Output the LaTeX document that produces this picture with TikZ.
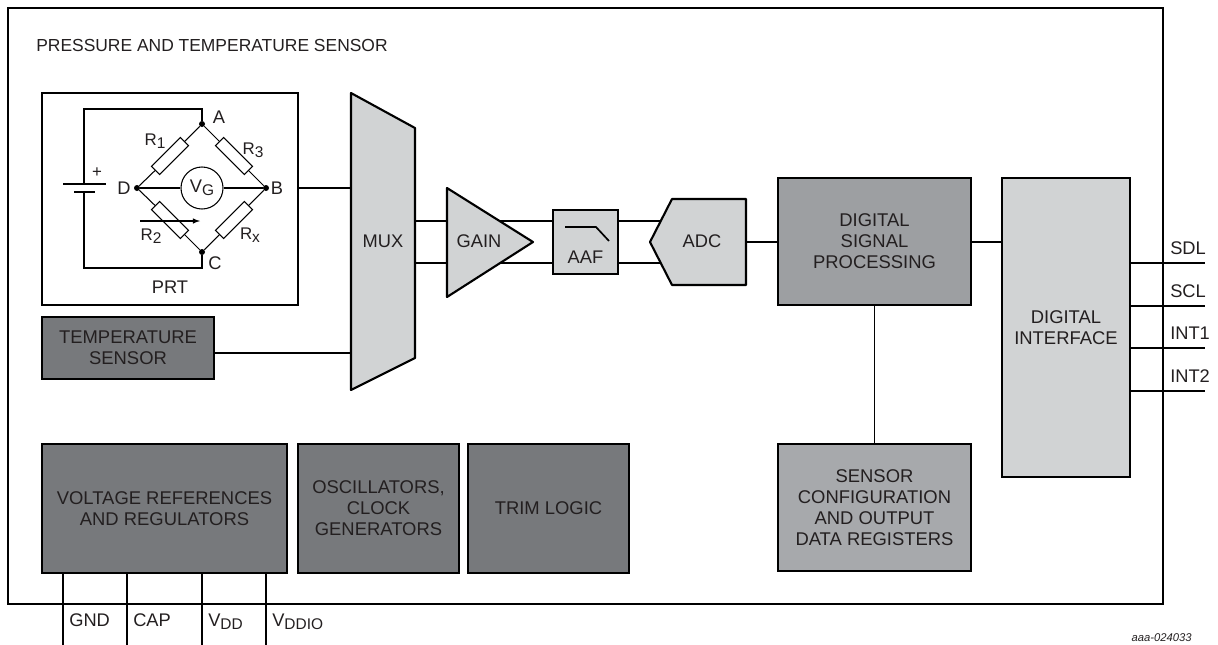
\documentclass[tikz,border=0pt]{standalone}
\usepackage{fontspec}
\setmainfont{Liberation Sans}
\definecolor{darkblock}{HTML}{77797C}
\definecolor{midblock}{HTML}{9D9FA2}
\definecolor{cfgblock}{HTML}{A7A9AC}
\definecolor{lightblock}{HTML}{D1D3D4}
\definecolor{inktext}{HTML}{231F20}
\newcommand{\lowsub}[1]{\raisebox{-.35ex}{\fontsize{11}{12}\selectfont #1}}
\tikzset{
	block/.style={draw=black,line width=1.5pt,align=center,inner sep=0pt,text=inktext,font=\fontsize{13.1}{15}\selectfont},
	wire/.style={line width=.75pt},
	label/.style={inner sep=0pt,text=inktext,font=\fontsize{13}{15}\selectfont},
	small/.style={inner sep=0pt,text=inktext,font=\fontsize{12}{14}\selectfont},
	resistor/.style={draw,fill=white,line width=.75pt,minimum width=1.02cm,minimum height=.29cm,inner sep=0pt},
	dot/.style={circle,fill=black,inner sep=0pt,minimum size=.15cm},
}
\begin{document}
\begin{tikzpicture}[x=.025cm,y=-.025cm]
		\useasboundingbox (0,0) rectangle (1218,645);
		% chip outline and pins
		\node[block,minimum width=28.875cm,minimum height=14.9cm] (chip) at (585.5,306) {};
		\node[label,anchor=west,font=\fontsize{12.4}{15}\selectfont] (title) at (36,45) {PRESSURE AND TEMPERATURE SENSOR};
		
		% bottom row
		\node[block,fill=darkblock,minimum width=6.125cm,minimum height=3.225cm] (vref) at (164.5,508.5) {VOLTAGE REFERENCES\\AND REGULATORS};
		\node[block,fill=darkblock,minimum width=4.025cm,minimum height=3.225cm] (osc) at (378.5,508.5) {OSCILLATORS,\\CLOCK\\GENERATORS};
		\node[block,fill=darkblock,minimum width=4.025cm,minimum height=3.225cm] (trim) at (548.5,508.5) {TRIM LOGIC};
		
		\foreach \name/\px/\txt/\ty in {gnd/63/GND/620,cap/127/CAP/620,vdd/202/V\lowsub{DD}/622,vddio/266/V\lowsub{DDIO}/622}{
			\coordinate (\name top) at (\px,573);
			\coordinate (\name end) at (\px,645);
			\draw[wire] (\name top) -- (\name end);
			\node[label,anchor=west] (\name) at (\px+6,\ty) {\txt};
		}
		
		% PRT bridge
		\node[block,fill=white,minimum width=6.4cm,minimum height=5.3cm] (prt) at (170,199) {};
		\node[label] (prtlabel) at (170,287) {PRT};
		\node[dot] (a) at (202,124) {};
		\node[dot] (b) at (266,188) {};
		\node[dot] (c) at (202,252) {};
		\node[dot] (d) at (137,188) {};
		\node[resistor,rotate=45] (r1) at (170,156) {};
		\node[resistor,rotate=-45] (r3) at (234,156) {};
		\node[resistor,rotate=-45] (r2) at (170,220) {};
		\node[resistor,rotate=45] (rx) at (234,220) {};
		\node[circle,draw,line width=.75pt,minimum size=1.05cm,inner sep=0pt,label] (vg) at (202,188) {V\lowsub{G}};
		\draw[wire] (d) -- (r1) -- (a) -- (r3) -- (b) -- (rx) -- (c) -- (r2) -- (d);
		\draw[wire] (d) -- (vg) -- (b);
		\coordinate (atop) at (202,109);
		\coordinate (cbot) at (202,268);
		\coordinate (plus) at (84,184);
		\coordinate (minus) at (84,192);
		\draw[wire] (plus) |- (atop) -- (a);
		\draw[wire] (minus) |- (cbot) -- (c);
		\coordinate (plusl) at (63,184);
		\coordinate (plusr) at (106,184);
		\coordinate (minusl) at (74,192);
		\coordinate (minusr) at (95,192);
		\draw[wire] (plusl) -- (plusr);
		\draw[line width=2pt] (minusl) -- (minusr);
		\coordinate (arrowl) at (140,221);
		\coordinate (arrowr) at (200,221);
		\draw[wire,->,>=latex] (arrowl) -- (arrowr);
		\node[small] (plussign) at (97,173) {+};
		\node[label] (la) at (219,117) {A};
		\node[label] (lb) at (277,188) {B};
		\node[label] (lc) at (215,263) {C};
		\node[label] (ld) at (124,188) {D};
		\node[small] (lr1) at (155,141) {R\lowsub{1}};
		\node[small] (lr3) at (253,150) {R\lowsub{3}};
		\node[small] (lr2) at (151,236) {R\lowsub{2}};
		\node[small] (lrx) at (250,235) {R\lowsub{x}};
		
		% signal path
		\node[block,fill=darkblock,minimum width=4.3cm,minimum height=1.55cm] (temp) at (128,348) {TEMPERATURE\\SENSOR};
		\coordinate (mux1) at (351,93);
		\coordinate (mux2) at (415,128);
		\coordinate (mux3) at (415,358);
		\coordinate (mux4) at (351,390);
		\coordinate (muxin1) at (351,188);
		\coordinate (muxin2) at (351,353);
		\coordinate (muxout1) at (415,221);
		\coordinate (muxout2) at (415,263);
		\draw[wire] (prt.east |- muxin1) -- (muxin1);
		\draw[wire] (temp.east |- muxin2) -- (muxin2);
		\filldraw[fill=lightblock,line width=1.5pt,line join=round] (mux1) -- (mux2) -- (mux3) -- (mux4) -- cycle;
		\node[label] (mux) at (383,241) {MUX};
		
		\node[block,fill=lightblock,minimum width=1.625cm,minimum height=1.6cm] (aaf) at (585.5,242) {};
		\node[label] (aaflabel) at (585.5,257) {AAF};
		\coordinate (aaf1) at (565,227);
		\coordinate (aaf2) at (596,227);
		\coordinate (aaf3) at (609,241);
		\draw[line width=1.2pt] (aaf1) -- (aaf2) -- (aaf3);
		\draw[wire] (muxout1) -- (muxout1 -| aaf.west);
		\draw[wire] (muxout2) -- (muxout2 -| aaf.west);
		\coordinate (gain1) at (447,188);
		\coordinate (gain2) at (533,242);
		\coordinate (gain3) at (447,297);
		\filldraw[fill=lightblock,line width=1.5pt,line join=round] (gain1) -- (gain2) -- (gain3) -- cycle;
		\node[label] (gain) at (479,241) {GAIN};
		
		\coordinate (adc1) at (650,242);
		\coordinate (adc2) at (672,199);
		\coordinate (adc3) at (746,199);
		\coordinate (adc4) at (746,285);
		\coordinate (adc5) at (672,285);
		\coordinate (adcin1) at (680,221);
		\coordinate (adcin2) at (680,263);
		\coordinate (adcout) at (746,242);
		\draw[wire] (aaf.east |- adcin1) -- (adcin1);
		\draw[wire] (aaf.east |- adcin2) -- (adcin2);
		\filldraw[fill=lightblock,line width=1.5pt,line join=round] (adc1) -- (adc2) -- (adc3) -- (adc4) -- (adc5) -- cycle;
		\node[label] (adc) at (702,241) {ADC};
		
		\node[block,fill=midblock,minimum width=4.825cm,minimum height=3.175cm] (dsp) at (874.5,241.5) {DIGITAL\\SIGNAL\\PROCESSING};
		\node[block,fill=cfgblock,minimum width=4.825cm,minimum height=3.175cm] (cfg) at (874.5,507.5) {SENSOR\\CONFIGURATION\\AND OUTPUT\\DATA REGISTERS};
		\node[block,fill=lightblock,minimum width=3.2cm,minimum height=7.475cm] (iface) at (1066,327.5) {DIGITAL\\INTERFACE};
		\draw[wire] (adcout) -- (adcout -| dsp.west);
		\draw[wire] (adcout -| dsp.east) -- (adcout -| iface.west);
		\draw[wire] (dsp) -- (cfg);
		
		\foreach \name/\py/\txt in {sdl/263/SDL,scl/306/SCL,intone/348/INT1,inttwo/391/INT2}{
			\coordinate (\name end) at (1205,\py);
			\draw[wire] (iface.east |- \name end) -- (\name end);
			\node[label,anchor=west] (\name) at (1170,\py-15) {\txt};
		}
		\node[inner sep=0pt,anchor=east,text=inktext,font=\fontsize{8}{10}\itshape] (code) at (1192,638) {aaa-024033};
		\end{tikzpicture}
\end{document}
